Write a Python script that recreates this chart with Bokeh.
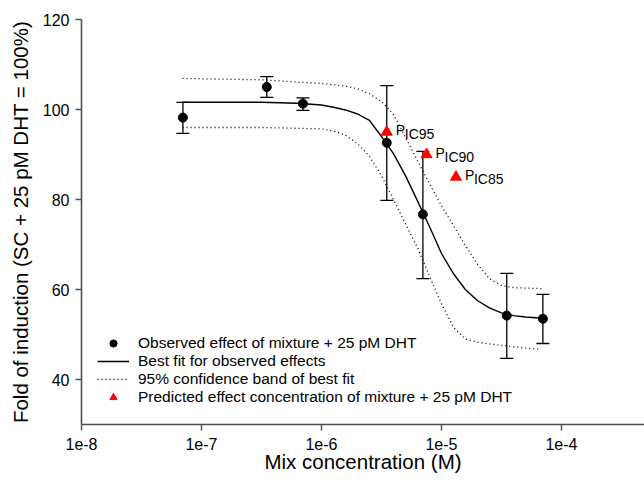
from bokeh.plotting import figure
from bokeh.models import (ColumnDataSource, Whisker, TeeHead, FixedTicker,
                          CustomJSTickFormatter, Legend, LegendItem, Range1d)
from bokeh.core.properties import value
from bokeh.embed import file_html
from bokeh.resources import INLINE

# Observed effects (mean and error bar limits)
obs_conc = [7e-8, 3.5e-7, 7e-7, 3.5e-6, 7e-6, 3.5e-5, 7e-5]
obs_effect = [98.2, 105.0, 101.3, 92.6, 76.7, 54.2, 53.5]
obs_upper = [101.6, 107.3, 102.6, 105.3, 90.7, 63.6, 58.9]
obs_lower = [94.7, 102.7, 99.8, 79.8, 62.4, 44.7, 48.0]

# Best fit curve
fit_conc = [6.95e-8, 3.16e-7, 6.31e-7, 1.0e-6, 1.26e-6, 1.58e-6, 2.0e-6, 2.51e-6,
            3.16e-6, 3.98e-6, 5.01e-6, 6.31e-6, 7.94e-6, 1.0e-5, 1.26e-5, 1.58e-5,
            2.0e-5, 2.51e-5, 3.16e-5, 3.98e-5, 5.01e-5, 6.95e-5]
fit_effect = [101.6, 101.6, 101.4, 101.0, 100.5, 99.9, 99.0, 97.6,
              94.0, 90.2, 85.3, 79.7, 74.0, 68.0, 63.5, 60.0,
              57.5, 55.9, 54.8, 54.2, 53.9, 53.6]

# 95% confidence band
upper_conc = [6.95e-8, 3.16e-7, 1.0e-6, 1.58e-6, 2.0e-6, 2.51e-6, 3.16e-6, 3.98e-6,
              5.01e-6, 6.31e-6, 7.94e-6, 1.0e-5, 1.26e-5, 1.58e-5, 2.0e-5, 2.51e-5,
              3.16e-5, 3.98e-5, 6.95e-5]
upper_effect = [106.9, 106.6, 105.8, 105.2, 104.6, 103.5, 101.8, 98.9,
                93.8, 88.6, 83.5, 78.6, 74.2, 69.8, 65.6, 62.4,
                60.9, 60.4, 60.2]
lower_conc = [6.95e-8, 3.16e-7, 1.0e-6, 1.26e-6, 1.58e-6, 2.0e-6, 2.51e-6, 3.16e-6,
              3.98e-6, 5.01e-6, 6.31e-6, 7.94e-6, 1.0e-5, 1.26e-5, 1.58e-5, 2.0e-5,
              2.51e-5, 3.98e-5, 6.43e-5]
lower_effect = [96.0, 96.0, 95.7, 95.2, 94.3, 92.4, 89.6, 85.3,
                80.0, 74.6, 69.3, 63.0, 56.8, 51.6, 49.0, 48.3,
                47.9, 47.3, 46.7]

# Predicted effect concentrations
pred_conc = [3.5e-6, 7.5e-6, 1.32e-5]
pred_effect = [95, 90, 85]
pred_sub = ["IC95", "IC90", "IC85"]

x_ticks = [1e-8, 1e-7, 1e-6, 1e-5, 1e-4]
y_ticks = [40, 60, 80, 100, 120]

legend_labels = ["Observed effect of mixture + 25 pM DHT",
                 "Best fit for observed effects",
                 "95% confidence band of best fit",
                 "Predicted effect concentration of mixture + 25 pM DHT"]

FONT = "Liberation Sans"
AX = "#505050"

p = figure(width=644, height=482, x_axis_type="log",
           x_range=Range1d(1e-8, 4.92e-4), y_range=Range1d(30, 120),
           output_backend="svg", toolbar_location=None,
           min_border_left=81, min_border_right=0, min_border_top=19,
           min_border_bottom=58)
p.xgrid.visible = False
p.ygrid.visible = False
p.outline_line_color = None
p.background_fill_color = "white"

r_upper = p.line(upper_conc, upper_effect, line_color="black", line_width=1.3, line_dash="1 3")
r_lower = p.line(lower_conc, lower_effect, line_color="black", line_width=1.3, line_dash="1 3")
r_fit = p.line(fit_conc, fit_effect, line_color="black", line_width=1.4)

src = ColumnDataSource(dict(x=obs_conc, y=obs_effect, up=obs_upper, lo=obs_lower))
wh = Whisker(source=src, base="x", upper="up", lower="lo", line_color="black", line_width=1.3,
             upper_head=TeeHead(size=13, line_color="black", line_width=1.3),
             lower_head=TeeHead(size=13, line_color="black", line_width=1.3))
p.add_layout(wh)
r_obs = p.scatter("x", "y", source=src, size=9, color="black")

r_pred = p.scatter(pred_conc, pred_effect, marker="triangle", size=11, color="red")

p.text(pred_conc, pred_effect, text=["P"] * 3, x_offset=9, y_offset=-2,
       text_font=value(FONT), text_font_size="14px", text_baseline="alphabetic",
       text_color="black")
p.text(pred_conc, pred_effect, text=pred_sub, x_offset=18, y_offset=2,
       text_font=value(FONT), text_font_size="14px", text_baseline="alphabetic",
       text_color="black")

for ax in (p.xaxis[0], p.yaxis[0]):
    ax.axis_line_color = AX
    ax.axis_line_width = 1.6
    ax.major_tick_line_color = AX
    ax.major_tick_line_width = 1.4
    ax.minor_tick_line_color = None
    ax.major_tick_in = 0
    ax.major_tick_out = 6
    ax.major_label_text_font = FONT
    ax.major_label_text_font_size = "16px"
    ax.major_label_text_color = "black"
    ax.axis_label_text_font = FONT
    ax.axis_label_text_font_size = "20.5px"
    ax.axis_label_text_font_style = "normal"
    ax.axis_label_text_color = "black"

p.xaxis.ticker = FixedTicker(ticks=x_ticks)
p.xaxis.formatter = CustomJSTickFormatter(code="return '1e' + Math.round(Math.log10(tick));")
p.xaxis.major_label_standoff = 7
p.xaxis.axis_label_standoff = -3
p.xaxis.axis_label = "Mix concentration (M)"

p.yaxis.ticker = FixedTicker(ticks=y_ticks)
p.yaxis.major_label_standoff = 6
p.yaxis.axis_label_standoff = 8
p.yaxis.axis_label = "Fold of induction (SC + 25 pM DHT = 100%)"

legend = Legend(items=[LegendItem(label=legend_labels[0], renderers=[r_obs]),
                       LegendItem(label=legend_labels[1], renderers=[r_fit]),
                       LegendItem(label=legend_labels[2], renderers=[r_lower]),
                       LegendItem(label=legend_labels[3], renderers=[r_pred])],
                location=(16, 18), orientation="vertical")
legend.background_fill_alpha = 0
legend.border_line_alpha = 0
legend.margin = 0
legend.padding = 0
legend.spacing = 0
legend.label_height = 18
legend.glyph_height = 18
legend.glyph_width = 32
legend.label_standoff = 9
legend.label_text_font = FONT
legend.label_text_font_size = "15.5px"
legend.label_text_color = "black"
p.add_layout(legend)

open("out.html", "w").write(file_html(p, INLINE))
